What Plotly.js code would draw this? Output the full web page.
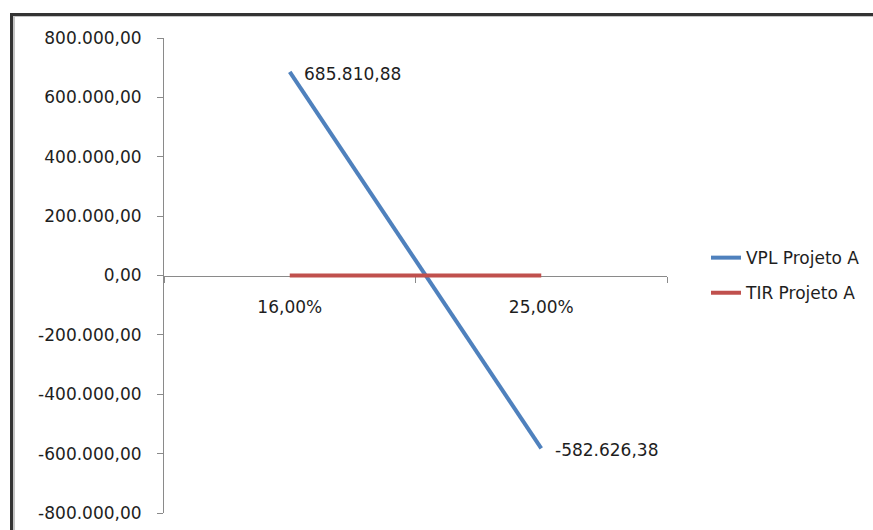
<!DOCTYPE html>
<html>
<head>
<meta charset="utf-8">
<script src="https://cdn.plot.ly/plotly-3.0.1.min.js"></script>
<style>
  html, body { margin: 0; padding: 0; background: #ffffff; overflow: hidden; }
  #frame { position: absolute; left: 10px; top: 13px; width: 1000px; height: 700px;
           border-left: 3px solid #333333; border-top: 3px solid #333333; z-index: 0; }
  #frameInner { position: absolute; left: 0; top: 0; width: 100%; height: 100%;
           border-left: 2px solid #c4c4c4; border-top: 1px solid #c4c4c4; }
  #chart { position: absolute; left: 0; top: 0; width: 873px; height: 530px; z-index: 1; }
</style>
</head>
<body>
<div id="frame"><div id="frameInner"></div></div>
<div id="chart"></div>
<script>
// ---- data ----
const categories = ["16,00%", "25,00%"];
const vplValues = [685810.88, -582626.38];
const tirValues = [0, 0];
const seriesNames = ["VPL Projeto A", "TIR Projeto A"];
const yTickVals = [800000, 600000, 400000, 200000, 0, -200000, -400000, -600000, -800000];
const yTickLabels = ["800.000,00", "600.000,00", "400.000,00", "200.000,00", "0,00",
                     "-200.000,00", "-400.000,00", "-600.000,00", "-800.000,00"];

function fmtBR(v) {
  const neg = v < 0;
  const parts = Math.abs(v).toFixed(2).split(".");
  const intPart = parts[0].replace(/\B(?=(\d{3})+(?!\d))/g, ".");
  return (neg ? "-" : "") + intPart + "," + parts[1];
}

const FONT = "DejaVu Sans";
const TXT = "#1e1e1e";

const traces = [
  {
    x: categories, y: vplValues, name: seriesNames[0], type: "scatter", mode: "lines",
    line: { color: "#4F81BD", width: 4 }, legendgroup: "a"
  },
  {
    x: categories, y: tirValues, name: seriesNames[1], type: "scatter", mode: "lines",
    line: { color: "#C0504D", width: 4 }, legendgroup: "b"
  }
];

const annotations = categories.map((c, i) => ({
  x: c, y: vplValues[i], xref: "x", yref: "y",
  text: fmtBR(vplValues[i]), showarrow: false,
  xanchor: "left", yanchor: "middle", xshift: 12, yshift: -2,
  font: { family: FONT, size: 17, color: TXT }
}));

const layout = {
  width: 873, height: 530,
  margin: { l: 164, r: 206, t: 38, b: 17, pad: 0 },
  paper_bgcolor: "rgba(0,0,0,0)",
  plot_bgcolor: "rgba(0,0,0,0)",
  showlegend: true,
  hovermode: false,
  xaxis: {
    type: "category",
    range: [-0.5, 1.5],
    anchor: "free", position: 0.5,
    layer: "below traces",
    showgrid: false, zeroline: false,
    showline: true, linecolor: "#8a8a8a", linewidth: 1,
    ticks: "outside", tickson: "boundaries", ticklen: 6, tickcolor: "#8a8a8a", tickwidth: 1,
    ticklabelstandoff: 16,
    tickfont: { family: FONT, size: 17, color: TXT },
    fixedrange: true
  },
  yaxis: {
    range: [-800000, 800000],
    tickvals: yTickVals, ticktext: yTickLabels,
    layer: "below traces",
    showgrid: false, zeroline: false,
    showline: true, linecolor: "#8a8a8a", linewidth: 1,
    ticks: "outside", ticklen: 6, tickcolor: "#8a8a8a", tickwidth: 1,
    ticklabelstandoff: 12,
    tickfont: { family: FONT, size: 17, color: TXT },
    fixedrange: true
  },
  legend: {
    xref: "container", yref: "container",
    x: 0.8087, xanchor: "left", y: 0.547, yanchor: "top",
    tracegroupgap: 10,
    font: { family: FONT, size: 17, color: TXT },
    bgcolor: "rgba(0,0,0,0)"
  },
  annotations: annotations
};

Plotly.newPlot("chart", traces, layout, { displayModeBar: false, staticPlot: true });
</script>
</body>
</html>
